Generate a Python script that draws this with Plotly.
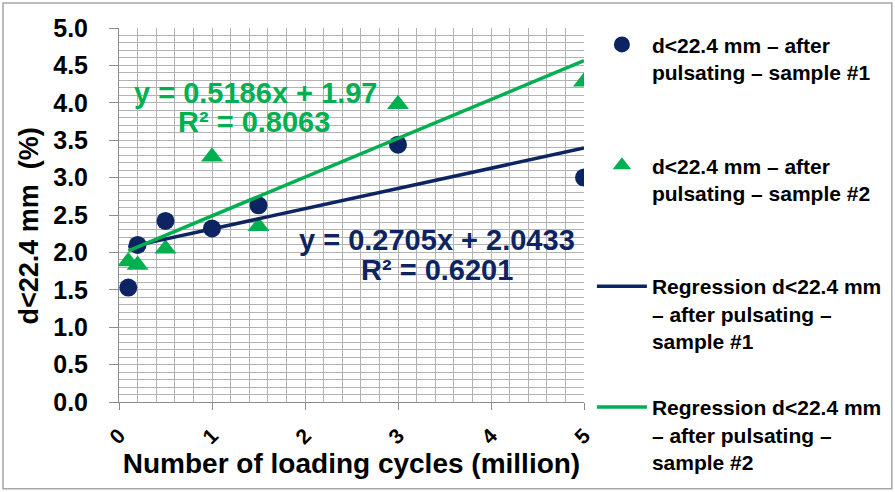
import plotly.graph_objects as go

# ---------------- data ----------------
cycles = [0.1, 0.2, 0.5, 1.0, 1.5, 3.0, 5.0]
sample1 = [1.53, 2.10, 2.42, 2.32, 2.63, 3.44, 3.00]
sample2 = [1.88, 1.83, 2.05, 3.28, 2.35, 3.98, 4.28]

slope1, intercept1, r2_1 = 0.2705, 2.0433, 0.6201
slope2, intercept2, r2_2 = 0.5186, 1.97, 0.8063

name_s1 = "d<22.4 mm – after<br>pulsating – sample #1<br>\u00a0"
name_s2 = "d<22.4 mm – after<br>pulsating – sample #2<br>\u00a0"
name_r1 = "Regression d<22.4 mm<br>– after pulsating –<br>sample #1"
name_r2 = "Regression d<22.4 mm<br>– after pulsating –<br>sample #2"

x_title = "Number of loading cycles (million)"
y_title = "d<22.4 mm  (%)"

NAVY = "#0C2461"
GREEN = "#00B050"
FONT = "Liberation Sans, Arial, sans-serif"

x_fit = [min(cycles), max(cycles)]
fit1 = [slope1 * x + intercept1 for x in x_fit]
fit2 = [slope2 * x + intercept2 for x in x_fit]

fig = go.Figure()
fig.add_trace(go.Scatter(x=cycles, y=sample1, mode="markers", name=name_s1,
                         legendgroup="a",
                         marker=dict(symbol="circle", size=18, color=NAVY)))
fig.add_trace(go.Scatter(x=cycles, y=sample2, mode="markers", name=name_s2,
                         legendgroup="b",
                         marker=dict(symbol="triangle-up", size=19, color=GREEN)))
fig.add_trace(go.Scatter(x=x_fit, y=fit1, mode="lines", name=name_r1,
                         legendgroup="c",
                         line=dict(color=NAVY, width=3.5)))
fig.add_trace(go.Scatter(x=x_fit, y=fit2, mode="lines", name=name_r2,
                         legendgroup="d",
                         line=dict(color=GREEN, width=3.5)))

ann_font = dict(family=FONT, size=29, weight="bold")
fig.add_annotation(x=1.47, y=4.13, text=f"y = {slope2}x + {intercept2}",
                   showarrow=False, font=dict(**ann_font, color=GREEN))
fig.add_annotation(x=1.45, y=3.74, text=f"R² = {r2_2}",
                   showarrow=False, font=dict(**ann_font, color=GREEN))
fig.add_annotation(x=3.42, y=2.17, text=f"y = {slope1}x + {intercept1}",
                   showarrow=False, font=dict(**ann_font, color=NAVY))
fig.add_annotation(x=3.42, y=1.77, text=f"R² = {r2_1}",
                   showarrow=False, font=dict(**ann_font, color=NAVY))

# y-axis title as rotated annotation
fig.add_annotation(xref="paper", yref="paper", x=-0.193, y=0.47, text=y_title,
                   textangle=-90, showarrow=False, xanchor="center", yanchor="middle",
                   font=dict(family=FONT, size=27, weight="bold", color="black"))

# outer chart border
fig.add_shape(type="rect", xref="paper", yref="paper",
              x0=-0.2495, x1=1.662, y0=-0.232, y1=1.0668,
              line=dict(color="#A6A6A6", width=1.5), layer="below")

grid = "#B2B2B2"
fig.update_xaxes(range=[0, 5], dtick=1, tick0=0, showgrid=True, gridcolor=grid,
                 gridwidth=1, zeroline=False, showline=True, linecolor="#8C8C8C",
                 linewidth=1, ticks="outside", ticklen=7, tickcolor="#8C8C8C",
                 tickangle=-45, ticklabelstandoff=5,
                 tickfont=dict(family=FONT, size=21, weight="bold", color="black"),
                 minor=dict(dtick=0.2, showgrid=True, gridcolor=grid, gridwidth=1),
                 title=dict(text=x_title, standoff=5,
                            font=dict(family=FONT, size=28, weight="bold", color="black")))
fig.update_yaxes(range=[0, 5], dtick=0.5, tick0=0, tickformat=".1f", showgrid=True,
                 gridcolor=grid, gridwidth=1, zeroline=False, showline=True,
                 linecolor="#8C8C8C", linewidth=1, ticks="outside", ticklen=9,
                 tickcolor="#8C8C8C", ticklabelstandoff=16,
                 tickfont=dict(family=FONT, size=25, weight="bold", color="black"),
                 minor=dict(dtick=0.1, showgrid=True, gridcolor=grid, gridwidth=1))

fig.update_layout(
    width=895, height=492,
    margin=dict(l=119, r=311, t=28, b=90, autoexpand=False),
    paper_bgcolor="white", plot_bgcolor="white",
    showlegend=True,
    legend=dict(x=1.017, xanchor="left", y=1.01, yanchor="top",
                valign="top", tracegroupgap=36, itemwidth=50, maxheight=492,
                font=dict(family=FONT, size=21, weight="bold", color="black"),
                bgcolor="rgba(0,0,0,0)"),
)

fig.write_html("out.html", config={"displayModeBar": False},
               post_script="document.body.style.margin='0';")
